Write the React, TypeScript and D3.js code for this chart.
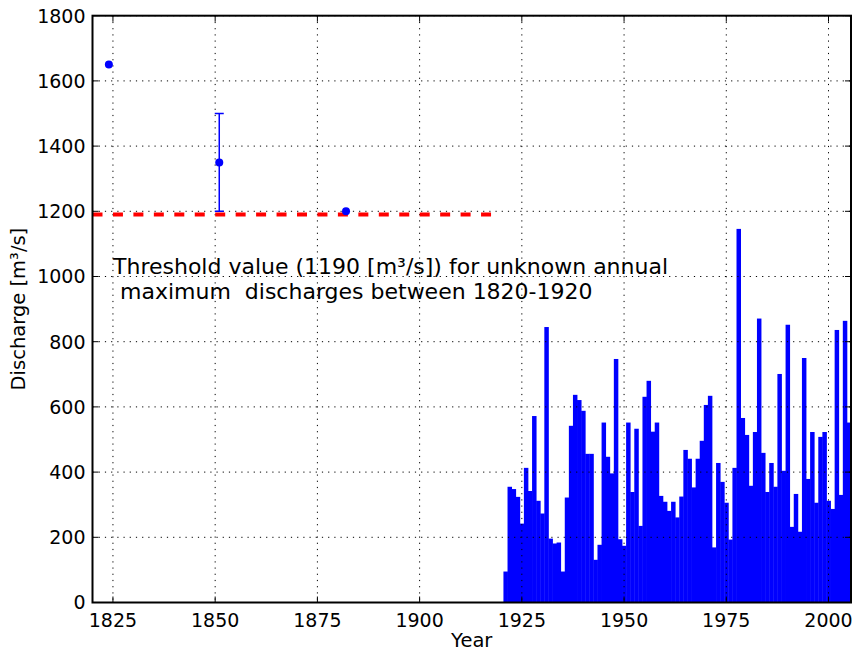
import * as d3 from 'd3';

const years = [
  1921, 1922, 1923, 1924, 1925, 1926, 1927, 1928, 1929, 1930,
  1931, 1932, 1933, 1934, 1935, 1936, 1937, 1938, 1939, 1940,
  1941, 1942, 1943, 1944, 1945, 1946, 1947, 1948, 1949, 1950,
  1951, 1952, 1953, 1954, 1955, 1956, 1957, 1958, 1959, 1960,
  1961, 1962, 1963, 1964, 1965, 1966, 1967, 1968, 1969, 1970,
  1971, 1972, 1973, 1974, 1975, 1976, 1977, 1978, 1979, 1980,
  1981, 1982, 1983, 1984, 1985, 1986, 1987, 1988, 1989, 1990,
  1991, 1992, 1993, 1994, 1995, 1996, 1997, 1998, 1999, 2000,
  2001, 2002, 2003, 2004, 2005,
];

const discharge = [
  95, 355, 348, 324, 242, 413, 342, 572, 312, 273,
  845, 196, 181, 184, 95, 322, 542, 637, 621, 588,
  456, 456, 131, 177, 552, 447, 396, 747, 194, 174,
  552, 339, 533, 235, 631, 680, 524, 552, 327, 309,
  281, 309, 261, 325, 468, 441, 353, 441, 496, 606,
  634, 169, 428, 370, 306, 193, 413, 1146, 566, 514,
  358, 523, 871, 459, 339, 428, 355, 701, 404, 852,
  232, 333, 217, 750, 379, 523, 306, 508, 523, 312,
  287, 836, 330, 864, 552,
];

// historical floods (before gauging)
const histYears = [1824, 1851, 1882];
const histValues = [1650, 1350, 1200];
const errYears = [1851];
const errLow = [1200];
const errHigh = [1500];

const threshold = 1190;
const thresholdSpan = [1820, 1920];

const xTicks = [1825, 1850, 1875, 1900, 1925, 1950, 1975, 2000];
const yTicks = [0, 200, 400, 600, 800, 1000, 1200, 1400, 1600, 1800];

const W = 853;
const H = 654;
const left = 92.5;
const right = 851;
const top = 15.7;
const bottom = 602.5;
const font = 'DejaVu Sans, sans-serif';

export default function App() {
  const x = d3.scaleLinear().domain([1820, 2005.5]).range([left, right]);
  const y = d3.scaleLinear().domain([0, 1800]).range([bottom, top]);
  const tickLen = 6;

  return (
    <svg
      width={W}
      height={H}
      style={{ position: 'absolute', left: 0, top: 0, background: '#fff' }}
    >
      <defs>
        <clipPath id="plot">
          <rect x={left} y={top} width={right - left} height={bottom - top} />
        </clipPath>
      </defs>

      <g clipPath="url(#plot)">
        {years.map((yr, i) => (
          <rect
            key={yr}
            x={x(yr - 0.5)}
            y={y(discharge[i])}
            width={x(yr + 0.5) - x(yr - 0.5) + 0.4}
            height={y(0) - y(discharge[i])}
            fill="#0000ff"
          />
        ))}

        {/* grid */}
        {xTicks.map((t) => (
          <line key={'gx' + t} x1={x(t)} x2={x(t)} y1={top} y2={bottom}
            stroke="#000" strokeWidth={1} strokeDasharray="1.2,5" />
        ))}
        {yTicks.map((t) => (
          <line key={'gy' + t} x1={left} x2={right} y1={y(t)} y2={y(t)}
            stroke="#000" strokeWidth={1} strokeDasharray="1.2,5" />
        ))}

        <line
          x1={x(thresholdSpan[0])}
          x2={x(thresholdSpan[1])}
          y1={y(threshold)}
          y2={y(threshold)}
          stroke="#ff0000"
          strokeWidth={4}
          strokeDasharray="10,10.45"
        />

        {errYears.map((yr, i) => (
          <g key={'e' + yr} stroke="#0000ff" strokeWidth={1.5}>
            <line x1={x(yr)} x2={x(yr)} y1={y(errLow[i])} y2={y(errHigh[i])} />
            <line x1={x(yr) - 4.5} x2={x(yr) + 4.5} y1={y(errHigh[i])} y2={y(errHigh[i])} />
            <line x1={x(yr) - 4.5} x2={x(yr) + 4.5} y1={y(errLow[i])} y2={y(errLow[i])} />
          </g>
        ))}
        {histYears.map((yr, i) => (
          <circle key={'p' + yr} cx={x(yr)} cy={y(histValues[i])} r={4} fill="#0000ff" />
        ))}
      </g>

      <text
        fontFamily={font}
        fontSize={22}
        fill="#000"
        style={{ whiteSpace: 'pre' }}
      >
        <tspan x={113} y={274}>Threshold value (1190 [m³/s]) for unknown annual</tspan>
        <tspan x={113} y={299}> maximum  discharges between 1820-1920</tspan>
      </text>

      {/* ticks, inward on all sides */}
      <g stroke="#000" strokeWidth={1}>
        {xTicks.map((t) => (
          <g key={'tx' + t}>
            <line x1={x(t)} x2={x(t)} y1={bottom} y2={bottom - tickLen} />
            <line x1={x(t)} x2={x(t)} y1={top} y2={top + tickLen} />
          </g>
        ))}
        {yTicks.map((t) => (
          <g key={'ty' + t}>
            <line x1={left} x2={left + tickLen} y1={y(t)} y2={y(t)} />
            <line x1={right} x2={right - tickLen} y1={y(t)} y2={y(t)} />
          </g>
        ))}
      </g>

      <rect x={left} y={top} width={right - left} height={bottom - top}
        fill="none" stroke="#000" strokeWidth={2} />

      <g fontFamily={font} fontSize={19} fill="#000">
        {xTicks.map((t) => (
          <text key={'lx' + t} x={x(t)} y={bottom + 24} textAnchor="middle">{t}</text>
        ))}
        {yTicks.map((t) => (
          <text key={'ly' + t} x={left - 7} y={y(t)} dy="0.36em" textAnchor="end">{t}</text>
        ))}
        <text x={(left + right) / 2} y={647} textAnchor="middle" fontSize={19.5}>Year</text>
        <text
          transform={`translate(25,${(top + bottom) / 2}) rotate(-90)`}
          textAnchor="middle"
          fontSize={19.5}
        >
          Discharge [m³/s]
        </text>
      </g>
    </svg>
  );
}
